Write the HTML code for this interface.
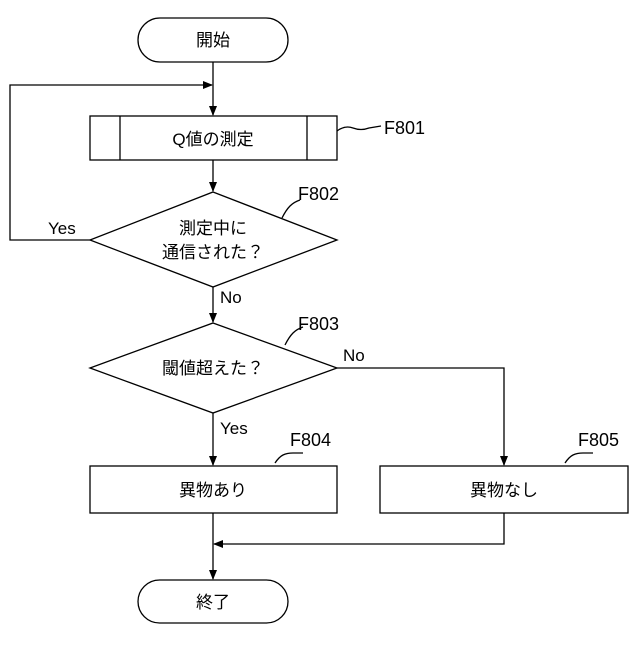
<!DOCTYPE html>
<html><head><meta charset="utf-8"><style>body{margin:0;background:#fff}</style></head><body>
<svg width="640" height="640" viewBox="0 0 640 640" xmlns="http://www.w3.org/2000/svg" font-family="'Liberation Sans','Noto Sans CJK JP',sans-serif" font-size="17">
<defs><marker id="a" markerWidth="10" markerHeight="10" refX="9" refY="5" orient="auto" markerUnits="userSpaceOnUse"><path d="M0,1 L10,5 L0,9 Z" fill="#000"/></marker></defs>
<g fill="none" stroke="#000" stroke-width="1.3">
<rect x="138" y="18" width="150" height="44" rx="22"/>
<line x1="213" y1="62" x2="213" y2="115" marker-end="url(#a)"/>
<rect x="90" y="116" width="247" height="44"/>
<line x1="120" y1="116" x2="120" y2="160"/><line x1="307" y1="116" x2="307" y2="160"/>
<line x1="213" y1="160" x2="213" y2="191" marker-end="url(#a)"/>
<polygon points="213,192 337,240 213,287 90,240"/>
<polyline points="90,240 10,240 10,85 212,85" marker-end="url(#a)"/>
<line x1="213" y1="287" x2="213" y2="322" marker-end="url(#a)"/>
<polygon points="213,323 337,368 213,413 90,368"/>
<polyline points="337,368 504,368 504,465" marker-end="url(#a)"/>
<line x1="213" y1="413" x2="213" y2="465" marker-end="url(#a)"/>
<rect x="90" y="466" width="247" height="47"/>
<rect x="380" y="466" width="248" height="47"/>
<polyline points="504,513 504,544 214,544" marker-end="url(#a)"/>
<line x1="213" y1="513" x2="213" y2="579" marker-end="url(#a)"/>
<rect x="138" y="580" width="150" height="43" rx="21.5"/>
<path d="M337,131 q8,-6 16,-3 q8,3 16,0 l12,-2"/>
<path d="M282,218 q4,-8 8,-12 q4,-4 10,-6"/>
<path d="M285,345 q4,-8 8,-12 q4,-4 10,-6"/>
<path d="M275,463 q4,-6 8,-8 q4,-2 10,-2 l10,0"/>
<path d="M565,463 q4,-6 8,-8 q4,-2 10,-2 l10,0"/>
</g>
<g fill="#000" text-anchor="middle">
<text x="213" y="46">開始</text>
<text x="213" y="145">Q値の測定</text>
<text x="213" y="234">測定中に</text>
<text x="213" y="258">通信された？</text>
<text x="213" y="374">閾値超えた？</text>
<text x="213" y="496">異物あり</text>
<text x="504" y="496">異物なし</text>
<text x="213" y="608">終了</text>
</g>
<g fill="#000" font-size="18">
<text x="384" y="134">F801</text>
<text x="298" y="200">F802</text>
<text x="298" y="330">F803</text>
<text x="290" y="446">F804</text>
<text x="578" y="446">F805</text>
<text x="48" y="234" font-size="17">Yes</text>
<text x="220" y="303" font-size="17">No</text>
<text x="343" y="361" font-size="17">No</text>
<text x="220" y="434" font-size="17">Yes</text>
</g>
</svg>
</body></html>
